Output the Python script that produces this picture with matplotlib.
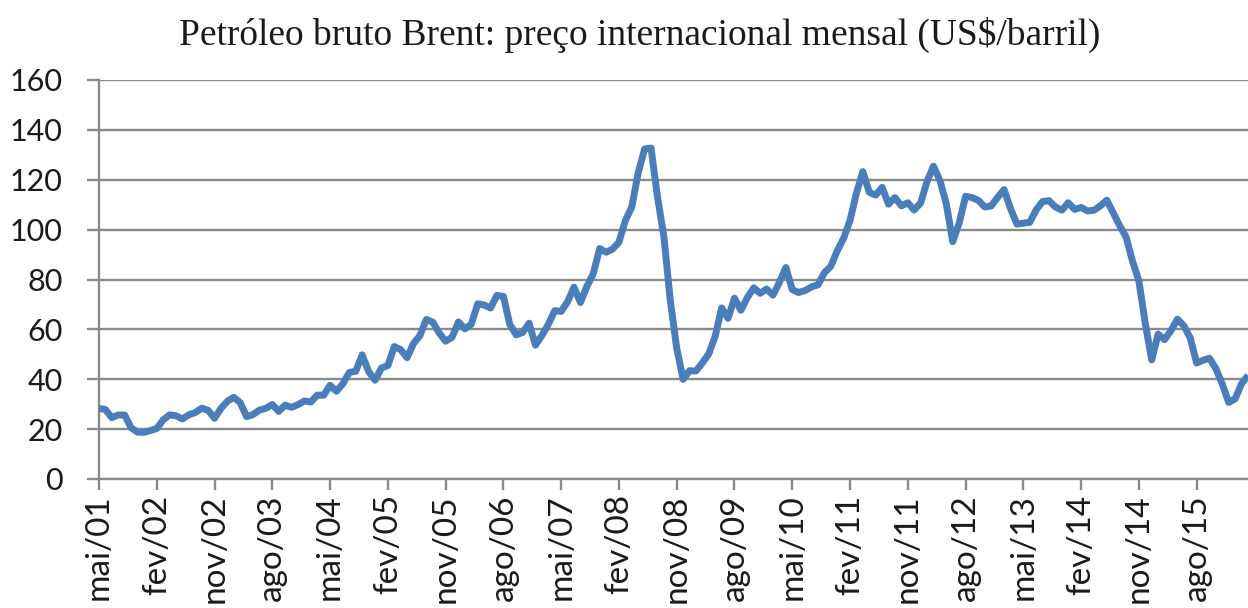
import matplotlib
matplotlib.use("Agg")
import matplotlib.pyplot as plt
import numpy as np

# Brent, media mensal em US$/barril, de mai/2001 a abr/2016
precos = [
    28.31, 27.85, 24.61, 25.68, 25.62, 20.54, 18.80, 18.71,                     # 2001
    19.42, 20.28, 23.70, 25.73, 25.35, 24.08, 25.74, 26.65, 28.40, 27.54, 24.34, 28.33,  # 2002
    31.18, 32.77, 30.61, 25.00, 25.86, 27.65, 28.35, 29.89, 27.11, 29.61, 28.75, 29.81,  # 2003
    31.28, 30.86, 33.63, 33.59, 37.57, 35.18, 38.22, 42.74, 43.20, 49.78, 43.11, 39.60,  # 2004
    44.51, 45.48, 53.10, 51.88, 48.65, 54.35, 57.52, 63.98, 62.91, 58.54, 55.24, 56.86,  # 2005
    62.99, 60.21, 62.06, 70.26, 69.78, 68.56, 73.67, 73.23, 61.96, 57.81, 58.76, 62.47,  # 2006
    53.68, 57.56, 62.05, 67.49, 67.21, 71.05, 76.93, 70.76, 77.17, 82.34, 92.41, 90.93,  # 2007
    92.18, 94.99, 103.64, 109.07, 122.80, 132.32, 132.72, 113.24, 97.23, 71.58, 52.45, 39.95,  # 2008
    43.44, 43.32, 46.54, 50.18, 57.30, 68.61, 64.44, 72.51, 67.65, 72.77, 76.66, 74.46,  # 2009
    76.17, 73.75, 78.83, 84.82, 75.95, 74.76, 75.58, 77.04, 77.84, 82.67, 85.28, 91.45,  # 2010
    96.52, 103.72, 114.64, 123.26, 114.99, 113.83, 116.97, 110.22, 112.83, 109.55, 110.77, 107.87,  # 2011
    110.69, 119.33, 125.45, 119.75, 110.34, 95.16, 102.62, 113.36, 112.86, 111.71, 109.06, 109.49,  # 2012
    112.96, 116.05, 108.47, 102.25, 102.56, 102.92, 107.93, 111.28, 111.60, 109.08, 107.79, 110.76,  # 2013
    108.12, 108.90, 107.48, 107.76, 109.54, 111.80, 106.77, 101.61, 97.09, 87.43, 79.44, 62.34,  # 2014
    47.76, 58.10, 55.89, 59.52, 64.08, 61.48, 56.56, 46.52, 47.62, 48.43, 44.27, 38.01,  # 2015
    30.70, 32.18, 38.21, 41.58,                                                  # 2016
]

meses_pt = ["jan", "fev", "mar", "abr", "mai", "jun",
            "jul", "ago", "set", "out", "nov", "dez"]
ano_inicio, mes_inicio = 2001, 5

rotulos = []
for i in range(len(precos)):
    m = mes_inicio - 1 + i
    rotulos.append(f"{meses_pt[m % 12]}/{(ano_inicio + m // 12) % 100:02d}")

passo_ticks = 9
y_ticks = list(range(0, 161, 20))

cinza = "#8a8a8a"
azul = "#4a7ebb"

fig = plt.figure(figsize=(12.48, 6.08), dpi=100)
ax = fig.add_axes([99 / 1248, 1 - 479 / 608, 1 - 99 / 1248, (479 - 80) / 608])

x = np.arange(len(precos))
ax.plot(x, precos, color=azul, lw=5, solid_joinstyle="round", solid_capstyle="butt",
        zorder=3)

ax.set_xlim(0, len(precos) - 1)
ax.set_ylim(0, 160)
ax.set_yticks(y_ticks)
ax.set_xticks(x[::passo_ticks])
ax.set_xticklabels(rotulos[::passo_ticks], rotation=90)

ax.grid(axis="y", color=cinza, lw=1.7)
ax.set_axisbelow(True)
for s in ["top", "right"]:
    ax.spines[s].set_visible(False)
for s in ["left", "bottom"]:
    ax.spines[s].set_color(cinza)
    ax.spines[s].set_linewidth(1.7)

ax.tick_params(axis="y", length=9, width=1.7, color=cinza, pad=17,
               labelsize=22, labelcolor="#1a1a1a")
ax.tick_params(axis="x", length=8, width=1.7, color=cinza, pad=3,
               labelsize=24, labelcolor="#1a1a1a")
for t in ax.get_xticklabels() + ax.get_yticklabels():
    t.set_fontfamily(["Lato", "DejaVu Sans"])

fig.text(640 / 1248, 1 - 35 / 608,
         "Petróleo bruto Brent: preço internacional mensal (US$/barril)",
         ha="center", va="center", fontsize=27, family=["Liberation Serif", "DejaVu Serif"],
         color="#1a1a1a")

fig.savefig("out.png", dpi=100)
